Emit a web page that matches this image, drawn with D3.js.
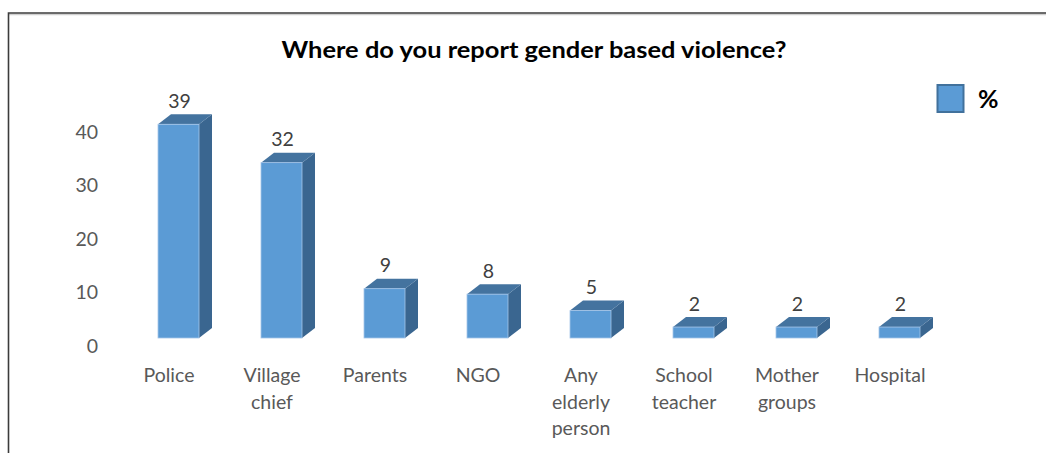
<!DOCTYPE html>
<html>
<head>
<meta charset="utf-8">
<script src="https://cdn.jsdelivr.net/npm/d3@7"></script>
<style>
  html, body { margin: 0; padding: 0; background: #fff; }
  svg { display: block; }
</style>
</head>
<body>
<svg id="chart" width="1046" height="453"></svg>
<script>
// Survey answers: where respondents report gender based violence (%)
const categories = ["Police", "Village\nchief", "Parents", "NGO", "Any\nelderly\nperson", "School\nteacher", "Mother\ngroups", "Hospital"];
const values = [39, 32, 9, 8, 5, 2, 2, 2];
const tickValues = [0, 10, 20, 30, 40];
const titleText = "Where do you report gender based violence?";
const seriesName = "%";

const W = 1046, H = 453;
const svg = d3.select("#chart");
const font = "Lato, 'Open Sans', sans-serif";

// Outer frame
svg.append("line").attr("x1", 8).attr("x2", W).attr("y1", 14.5).attr("y2", 14.5)
  .attr("stroke", "#d0d0d0").attr("stroke-width", 1.5);
svg.append("path").attr("d", `M8.5,${H} V13 H${W}`)
  .attr("fill", "none").attr("stroke", "#3c3c3c").attr("stroke-width", 1.6);

// Scales
const x = d3.scaleBand().domain(categories).range([117.5, 117.5 + 8 * 103]);
const y = d3.scaleLinear().domain([0, 40]).range([338, 338 - 40 * 5.48]);
const yWall = d3.scaleLinear().domain([0, 40]).range([345, 131.5]);

const depthX = 13, depthY = 10;     // 3D extrusion of each column
const frontOff = -11, frontW = 41;  // front face position relative to band centre

// Value axis (labels only, drawn on the back wall)
const yAxis = d3.axisLeft(yWall).tickValues(tickValues).tickSize(0).tickPadding(0);
const gy = svg.append("g").attr("transform", "translate(98,0)").call(yAxis);
gy.select(".domain").remove();
gy.selectAll("text").attr("font-family", font).attr("font-size", 19.5).attr("fill", "#595959")
  .attr("dy", "0.36em");

// Columns
const bars = svg.append("g").selectAll("g").data(values.map((v, i) => ({ v, c: categories[i] })))
  .join("g");

bars.append("path") // side face
  .attr("d", d => {
    const x1 = x(d.c) + x.bandwidth() / 2 + frontOff + frontW;
    return `M${x1},${y(0)} L${x1 + depthX},${y(0) - depthY} L${x1 + depthX},${y(d.v) - depthY} L${x1},${y(d.v)} Z`;
  })
  .attr("fill", "#3a6690");

bars.append("path") // top face
  .attr("d", d => {
    const x0 = x(d.c) + x.bandwidth() / 2 + frontOff;
    const yt = y(d.v);
    return `M${x0},${yt} L${x0 + depthX},${yt - depthY} L${x0 + frontW + depthX},${yt - depthY} L${x0 + frontW},${yt} Z`;
  })
  .attr("fill", "#44739f");

bars.append("rect") // front face
  .attr("x", d => x(d.c) + x.bandwidth() / 2 + frontOff)
  .attr("y", d => y(d.v))
  .attr("width", frontW)
  .attr("height", d => y(0) - y(d.v))
  .attr("fill", "#5b9bd5")
  .attr("stroke", "#a5c5e9").attr("stroke-width", 0.8);

// Data labels
bars.append("text")
  .attr("x", d => x(d.c) + x.bandwidth() / 2 + frontOff + frontW / 2 + 1)
  .attr("y", d => y(d.v) - depthY - 6.5)
  .attr("text-anchor", "middle")
  .attr("font-family", font).attr("font-size", 19.5).attr("fill", "#404040")
  .text(d => d.v);

// Category labels
const xl = svg.append("g");
categories.forEach(c => {
  const t = xl.append("text")
    .attr("x", x(c) + x.bandwidth() / 2)
    .attr("y", 382)
    .attr("text-anchor", "middle")
    .attr("font-family", font).attr("font-size", 19.5).attr("fill", "#595959");
  c.split("\n").forEach((line, i) => {
    t.append("tspan").attr("x", x(c) + x.bandwidth() / 2).attr("dy", i === 0 ? 0 : 26.5).text(line);
  });
});

// Title
svg.append("text")
  .attr("x", 534).attr("y", 58)
  .attr("text-anchor", "middle")
  .attr("font-family", font).attr("font-weight", "bold").attr("font-size", 22).attr("fill", "#000")
  .attr("textLength", 505).attr("lengthAdjust", "spacingAndGlyphs")
  .text(titleText);

// Legend
svg.append("rect").attr("x", 937.5).attr("y", 85).attr("width", 26).attr("height", 27)
  .attr("fill", "#5b9bd5").attr("stroke", "#41719c").attr("stroke-width", 2);
svg.append("text").attr("x", 978).attr("y", 108)
  .attr("font-family", font).attr("font-weight", "bold").attr("font-size", 25).attr("fill", "#000")
  .text(seriesName);
</script>
</body>
</html>
